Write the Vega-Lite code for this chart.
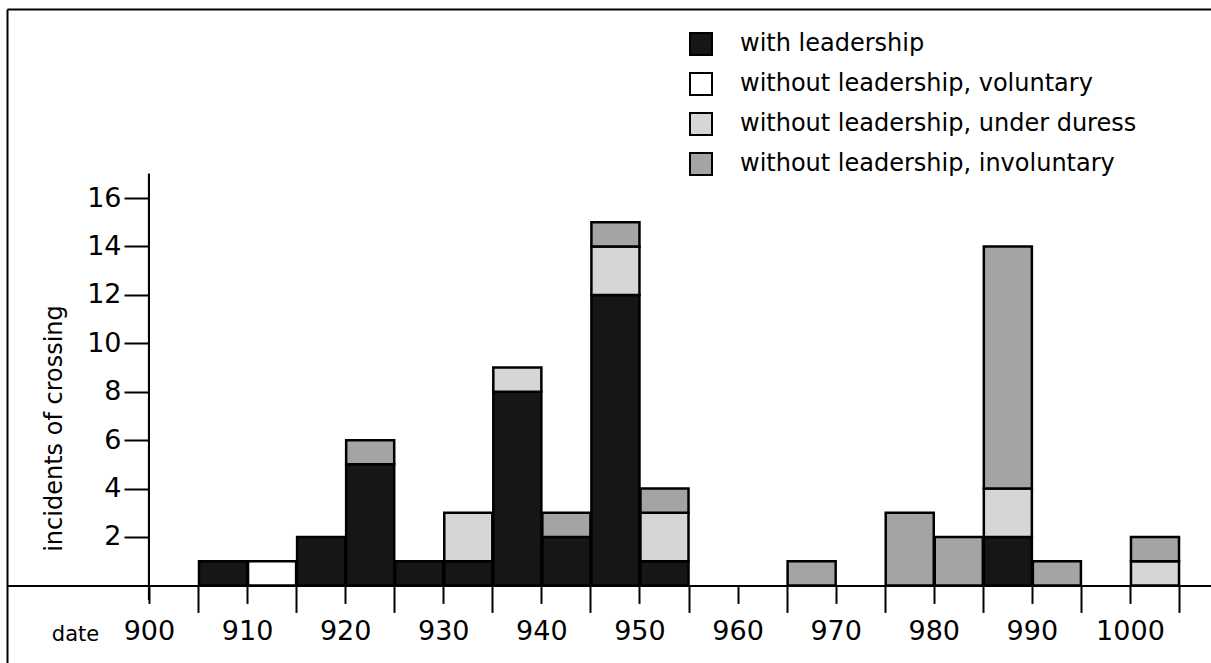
{
  "$schema": "https://vega.github.io/schema/vega-lite/v6.json",
  "width": 1204,
  "height": 654,
  "autosize": {"type": "none"},
  "padding": {"left": 7, "top": 9, "right": 0, "bottom": 0},
  "background": "white",
  "config": {
    "view": {"stroke": null},
    "font": "DejaVu Sans",
    "axis": {"domainColor": "black", "tickColor": "black", "labelColor": "black", "titleColor": "black", "grid": false, "labelFont": "DejaVu Sans", "titleFont": "DejaVu Sans"}
  },
  "data": {
    "values": [
      {"start": 905, "end": 910, "cat": "with leadership", "k": 1, "n": 1},
      {"start": 910, "end": 915, "cat": "without leadership, voluntary", "k": 2, "n": 1},
      {"start": 915, "end": 920, "cat": "with leadership", "k": 1, "n": 2},
      {"start": 920, "end": 925, "cat": "with leadership", "k": 1, "n": 5},
      {"start": 920, "end": 925, "cat": "without leadership, involuntary", "k": 4, "n": 1},
      {"start": 925, "end": 930, "cat": "with leadership", "k": 1, "n": 1},
      {"start": 930, "end": 935, "cat": "with leadership", "k": 1, "n": 1},
      {"start": 930, "end": 935, "cat": "without leadership, under duress", "k": 3, "n": 2},
      {"start": 935, "end": 940, "cat": "with leadership", "k": 1, "n": 8},
      {"start": 935, "end": 940, "cat": "without leadership, under duress", "k": 3, "n": 1},
      {"start": 940, "end": 945, "cat": "with leadership", "k": 1, "n": 2},
      {"start": 940, "end": 945, "cat": "without leadership, involuntary", "k": 4, "n": 1},
      {"start": 945, "end": 950, "cat": "with leadership", "k": 1, "n": 12},
      {"start": 945, "end": 950, "cat": "without leadership, under duress", "k": 3, "n": 2},
      {"start": 945, "end": 950, "cat": "without leadership, involuntary", "k": 4, "n": 1},
      {"start": 950, "end": 955, "cat": "with leadership", "k": 1, "n": 1},
      {"start": 950, "end": 955, "cat": "without leadership, under duress", "k": 3, "n": 2},
      {"start": 950, "end": 955, "cat": "without leadership, involuntary", "k": 4, "n": 1},
      {"start": 965, "end": 970, "cat": "without leadership, involuntary", "k": 4, "n": 1},
      {"start": 975, "end": 980, "cat": "without leadership, involuntary", "k": 4, "n": 3},
      {"start": 980, "end": 985, "cat": "without leadership, involuntary", "k": 4, "n": 2},
      {"start": 985, "end": 990, "cat": "with leadership", "k": 1, "n": 2},
      {"start": 985, "end": 990, "cat": "without leadership, under duress", "k": 3, "n": 2},
      {"start": 985, "end": 990, "cat": "without leadership, involuntary", "k": 4, "n": 10},
      {"start": 990, "end": 995, "cat": "without leadership, involuntary", "k": 4, "n": 1},
      {"start": 1000, "end": 1005, "cat": "without leadership, under duress", "k": 3, "n": 1},
      {"start": 1000, "end": 1005, "cat": "without leadership, involuntary", "k": 4, "n": 1}
    ]
  },
  "resolve": {"axis": {"x": "independent", "y": "independent"}},
  "layer": [
    {
      "mark": {"type": "bar", "stroke": "black", "strokeWidth": 2.5, "orient": "vertical"},
      "encoding": {
        "x": {
          "field": "start", "type": "quantitative", "bin": {"binned": true, "step": 5},
          "scale": {"domain": [885.53, 1008.26], "nice": false, "zero": false},
          "axis": {
            "orient": "bottom", "offset": -77.6,
            "values": [900, 910, 920, 930, 940, 950, 960, 970, 980, 990, 1000],
            "format": "d", "domain": true, "domainWidth": 2,
            "tickSize": 18, "tickWidth": 2,
            "labelFontSize": 27, "labelPadding": 15,
            "title": "date", "titleFontSize": 21, "titleFontWeight": "normal",
            "titleX": 68, "titleY": 49, "titleBaseline": "middle", "titleAlign": "center"
          }
        },
        "x2": {"field": "end"},
        "y": {
          "field": "n", "type": "quantitative", "stack": "zero",
          "scale": {"domain": [-3.205, 23.81], "nice": false, "zero": false},
          "axis": {
            "orient": "left", "offset": -142,
            "values": [2, 4, 6, 8, 10, 12, 14, 16],
            "domain": false, "tickSize": 25, "tickWidth": 2,
            "labelFontSize": 27, "labelPadding": 3,
            "title": "incidents of crossing", "titleFontSize": 24, "titleFontWeight": "normal",
            "titleX": -95, "titleY": 419, "titleAngle": -90, "titleBaseline": "middle", "titleAlign": "center"
          }
        },
        "color": {
          "field": "cat", "type": "nominal",
          "scale": {
            "domain": ["with leadership", "without leadership, voluntary", "without leadership, under duress", "without leadership, involuntary"],
            "range": ["#161616", "#ffffff", "#d6d6d6", "#a4a4a4"]
          },
          "legend": {
            "orient": "none", "legendX": 682, "legendY": 23, "title": null,
            "labelFontSize": 24, "labelColor": "black", "labelFont": "DejaVu Sans", "labelLimit": 0,
            "symbolType": "square", "symbolSize": 484, "symbolStrokeColor": "black", "symbolStrokeWidth": 2,
            "rowPadding": 10, "labelOffset": 27
          }
        },
        "order": {"field": "k", "type": "quantitative"}
      }
    },
    {
      "data": {"values": [{}]},
      "mark": {"type": "rule", "strokeWidth": 2, "color": "black"},
      "encoding": {
        "x": {
          "datum": 900, "type": "quantitative",
          "axis": {
            "orient": "bottom", "offset": -77.6,
            "values": [905, 915, 925, 935, 945, 955, 965, 975, 985, 995, 1005],
            "domain": false, "labels": false, "tickSize": 27, "tickWidth": 2, "title": null
          }
        },
        "y": {
          "datum": -0.6, "type": "quantitative",
          "axis": {"orient": "left", "domain": true, "domainWidth": 2, "ticks": false, "labels": false, "title": null}
        },
        "y2": {"datum": 17}
      }
    },
    {
      "data": {"values": [{}]},
      "mark": {"type": "rule", "strokeWidth": 2, "color": "black"},
      "encoding": {
        "x": {
          "datum": 900, "type": "quantitative",
          "axis": {"orient": "top", "domain": true, "domainWidth": 2, "ticks": false, "labels": false, "title": null}
        },
        "y": {"datum": -0.6, "type": "quantitative", "axis": null},
        "y2": {"datum": 17}
      }
    }
  ]
}
